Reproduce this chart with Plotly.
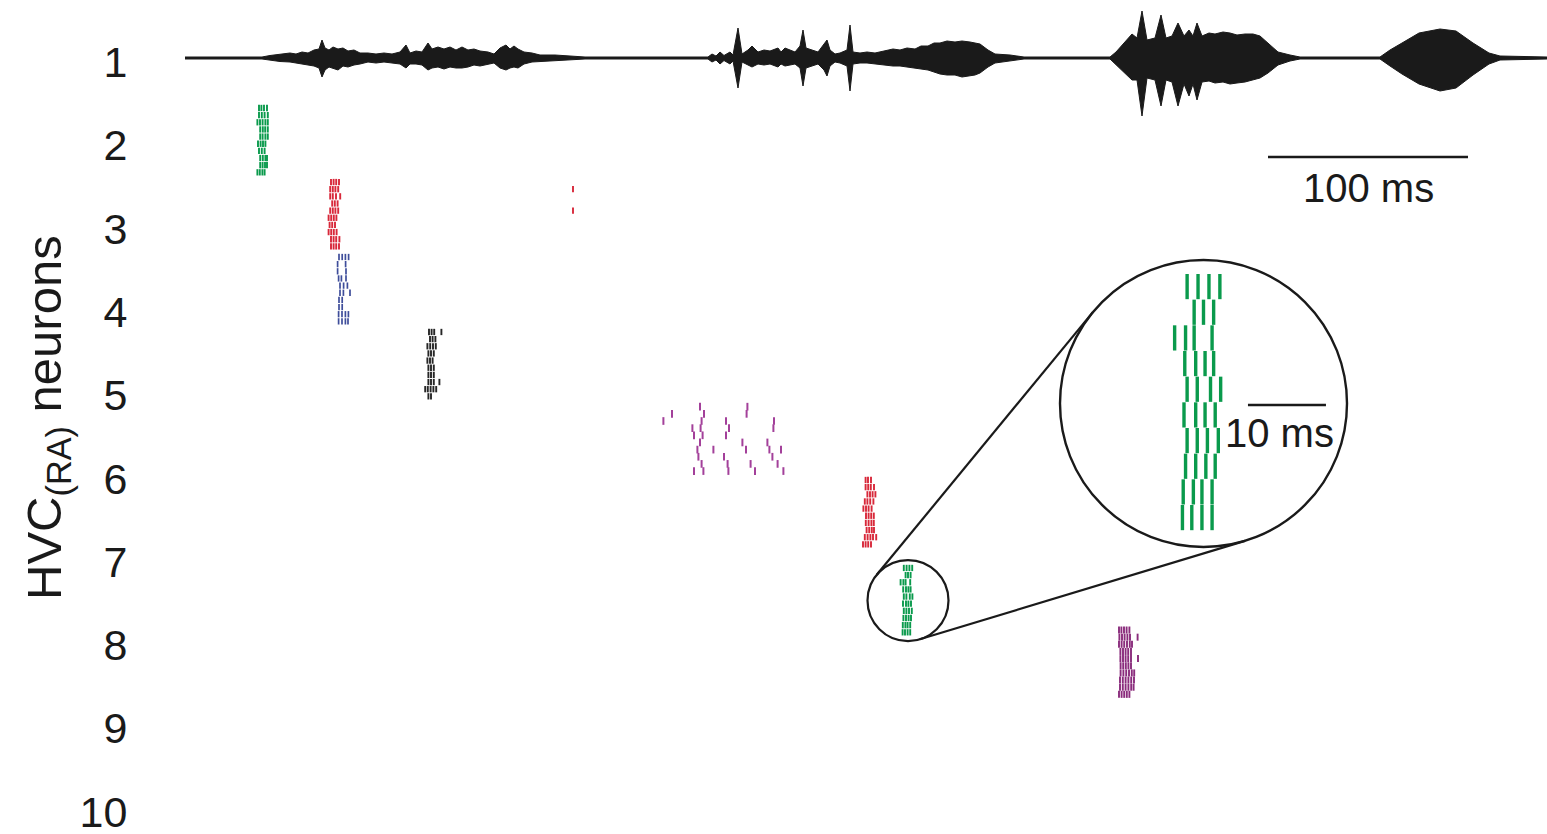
import math
import plotly.graph_objects as go

# ---------------- data ----------------
# song amplitude envelope: (time ms, upward amplitude, downward amplitude) in arbitrary units
song_envelope = [
    (0, 1, 1), (38.5, 1, 1), (42.5, 2.5, 2.5), (47.5, 3.5, 3.5), (52.5, 5, 4),
    (55.5, 4, 5), (58.5, 6, 6), (61.5, 5, 7), (64.5, 8, 8), (67, 9, 10),
    (68.5, 18, 19), (70, 10, 12), (72, 8, 9), (74, 11, 10), (76.5, 9, 12),
    (79, 10, 8), (81.5, 7, 9), (84.5, 8, 7), (87.5, 5, 6), (91.5, 5, 4),
    (95.5, 4, 5), (99.5, 5, 4), (103.5, 4, 5), (107.5, 6, 6), (110.5, 13, 10),
    (112.5, 5, 6), (115.5, 7, 6), (118.5, 6, 7), (121.5, 15, 12), (123.5, 9, 10),
    (126.5, 11, 9), (129.5, 9, 11), (132.5, 11, 9), (135.5, 8, 10), (138.5, 11, 10),
    (141.5, 8, 9), (144.5, 9, 7), (147.5, 7, 8), (151.5, 6, 6), (154.5, 4, 5),
    (157.5, 10, 10), (160.5, 13, 12), (162.5, 9, 10), (164.5, 12, 9), (166.5, 9, 10),
    (169.5, 6, 6), (173.5, 5, 4), (177.5, 3, 4), (185, 3, 3), (192.5, 2, 2),
    (200, 1, 1), (261.5, 1, 1),
    (263.5, 4, 4), (265.5, 2, 2), (267.5, 6, 6), (269.5, 2.5, 2.5), (272.5, 6, 6),
    (274, 3, 3), (276.5, 30, 30), (278.5, 4, 4), (281.5, 8, 7), (283.5, 12, 9),
    (286.5, 6, 6), (289.5, 8, 7), (292.5, 7, 6), (296.5, 10, 9), (298, 6, 6), (300, 10, 8),
    (305, 6, 6), (307.5, 12, 10), (309, 28, 28), (310.5, 10, 10), (313.5, 8, 8),
    (316.5, 6, 6), (319.5, 14, 12), (321, 18, 18), (322.5, 8, 8), (325, 4, 4),
    (327.5, 5, 5), (331, 8, 8), (332.5, 33, 33), (334, 6, 6), (337.5, 5, 5),
    (341, 6, 5), (345, 5, 6), (350, 7, 7), (354, 9, 8), (357.5, 8, 8),
    (361, 10, 9), (365, 9, 10), (368, 12, 11), (371.5, 12, 12), (374.5, 15, 14),
    (377.5, 15, 16), (381, 17, 17), (385, 16, 17), (388.5, 17, 19), (392.5, 16, 18),
    (395, 15, 17), (397.5, 14, 15), (401.5, 8, 9), (405, 4, 5), (412.5, 3, 3),
    (419.5, 1, 1), (462.5, 1, 1), (465.5, 6, 6), (469.5, 15, 14), (473.5, 24, 22),
    (476, 20, 22), (478.5, 47, 58), (481, 18, 20), (485, 20, 22), (488, 43, 48),
    (490.5, 20, 22), (493.5, 22, 24), (496.5, 35, 48), (499.5, 22, 26), (502, 28, 38),
    (504, 22, 26), (506, 35, 42), (508.5, 22, 24), (512, 25, 23), (515, 24, 25),
    (519, 26, 24), (522.5, 25, 26), (526, 23, 25), (530, 24, 24), (534, 24, 22),
    (537.5, 22, 20), (541.5, 15, 15), (546.5, 6, 7), (552.5, 3, 3), (557.5, 1, 1),
    (597.5, 1, 1), (602.5, 8, 8), (608.5, 15, 16), (617, 25, 26), (627.5, 29, 33),
    (635.5, 27, 30), (644, 15, 17), (652, 5, 6), (657.5, 2, 2), (681, 1, 1),
]

# spike times (ms) per trial for each recorded neuron
n2_trials = [
    [37.0, 38.2, 39.5, 41.0], [37.0, 38.4, 39.8, 41.4], [36.2, 37.5, 38.8, 40.2, 41.4],
    [37.6, 38.9, 40.1, 41.4], [37.6, 38.8, 40.2, 41.4], [36.5, 37.8, 39.0, 40.2],
    [37.0, 38.4, 39.8], [37.6, 38.9, 40.2, 41.0], [37.6, 38.8, 40.0, 41.0],
    [36.2, 37.4, 38.7, 39.8],
]
n3_trials = [
    [73.0, 74.3, 75.6, 77.0], [72.6, 73.9, 75.2, 76.6, 194.0], [72.6, 73.9, 75.5, 77.6],
    [73.6, 74.9, 76.3], [72.6, 73.9, 75.2, 76.6, 194.0], [71.8, 73.1, 74.4, 75.7],
    [72.3, 73.6, 75.0], [71.8, 73.1, 74.4, 75.8], [73.0, 74.3, 75.6, 77.2],
    [73.0, 74.3, 75.6, 77.0],
]
n4_trials = [
    [77.0, 78.6, 80.2, 81.8], [76.3, 80.3], [76.3, 80.5], [76.8, 78.2, 80.5],
    [77.5, 79.3, 81.2], [77.5, 79.2, 82.5], [77.0, 78.6], [77.0, 78.6],
    [76.8, 78.5, 80.2, 81.7], [76.8, 78.5, 80.2, 81.5],
]
n5_trials = [
    [122.0, 123.3, 124.6, 128.2], [122.5, 123.8, 125.2], [121.2, 122.6, 124.0, 125.4],
    [121.7, 123.0, 124.4], [121.2, 122.5, 123.8], [121.7, 123.0, 124.4],
    [121.7, 123.0, 124.4], [121.7, 123.0, 124.4, 127.2], [120.1, 121.4, 122.8, 124.2, 125.6],
    [121.7, 123.0],
]
n6_trials = [
    [257.5, 281.2], [243.5, 259.5, 280.8], [239.2, 258.3, 270.5, 294.5],
    [253.7, 257.8, 272.0, 294.2], [254.5, 258.8, 270.5], [257.5, 278.7, 291.2],
    [256.2, 264.2, 280.5, 292.2, 298.0], [256.7, 269.5, 293.7],
    [258.3, 271.3, 282.8, 296.3], [254.5, 259.2, 271.7, 285.0, 299.2],
]
n7_trials = [
    [340.3, 341.5, 343.0], [340.3, 341.6, 342.9, 344.5], [341.2, 342.5, 343.8, 345.2],
    [339.9, 341.2, 342.6, 344.2], [339.2, 340.5, 341.8, 343.3], [340.5, 341.8, 343.1, 344.4],
    [340.4, 341.8, 343.2, 344.4], [340.8, 342.1, 343.4, 344.5],
    [339.9, 341.3, 342.7, 344.0, 345.6], [339.0, 340.3, 341.6, 343.0],
]
n8_trials = [
    [359.4, 360.8, 362.2, 363.6], [360.3, 361.5, 362.8], [357.8, 359.2, 360.3, 362.6],
    [359.1, 360.5, 361.7, 362.8], [359.4, 360.7, 362.4, 363.7], [359.0, 360.5, 361.7, 363.0],
    [359.4, 360.7, 362.0, 363.4], [359.2, 360.5, 361.8, 363.0], [358.9, 360.2, 361.3, 362.6],
    [358.8, 360.0, 361.3, 362.6],
]
n9_trials = [
    [467.0, 468.2, 469.5, 470.8, 472.2], [467.2, 468.5, 469.8, 471.2, 472.5, 476.3],
    [467.0, 468.3, 469.6, 471.0, 472.4, 473.5], [467.7, 469.0, 470.3, 471.6, 473.0],
    [467.7, 469.0, 470.3, 471.6, 473.0, 476.5], [467.8, 469.1, 470.4, 471.7, 473.0],
    [467.8, 469.2, 470.6, 472.0, 473.4, 474.6], [467.5, 468.9, 470.3, 471.7, 473.1, 474.5],
    [467.5, 468.9, 470.3, 471.7, 473.1, 474.3], [467.0, 468.3, 469.6, 470.9, 472.2],
]

# row position (neuron-axis units) of the first trial of each raster
raster_rows = [1.552, 2.441, 3.341, 4.241, 5.138, 6.018, 7.074, 7.819]
neuron_ticks = [1, 2, 3, 4, 5, 6, 7, 8, 9, 10]
tick_labels = ["1", "2", "3", "4", "5", "6", "7", "8", "9", "10"]
song_row = 0.952

# ---------------- styling / layout ----------------
W, H = 1547, 834
ML = 185
PW = W - ML
X_MIN, X_MAX = 0.0, 681.0
PX_PER_UNIT = 83.3
Y_TOP = 1 - 62 / PX_PER_UNIT
Y_BOT = Y_TOP + H / PX_PER_UNIT
SX = PW / (X_MAX - X_MIN)
SY = PX_PER_UNIT
TRIAL_STEP = 7.15 / PX_PER_UNIT
INK = "#1a1a1a"
FONT = "Liberation Sans, Arial, Helvetica, sans-serif"

rasters = [
    (n2_trials, "#0a9a4c", 4.5, 1.9),
    (n3_trials, "#d8283a", 4.5, 1.9),
    (n4_trials, "#3e4d9a", 4.5, 1.7),
    (n5_trials, "#262626", 4.5, 1.9),
    (n6_trials, "#a3409a", 5.5, 2.0),
    (n7_trials, "#d8283a", 4.5, 1.9),
    (n8_trials, "#0a9a4c", 4.5, 1.9),
    (n9_trials, "#8a2c7c", 5.0, 1.9),
]

fig = go.Figure()

# song waveform envelope
ts = [p[0] for p in song_envelope]
ups = [song_row - p[1] / PX_PER_UNIT for p in song_envelope]
dns = [song_row + p[2] / PX_PER_UNIT for p in song_envelope]
fig.add_trace(go.Scatter(
    x=ts + ts[::-1], y=ups + dns[::-1], mode="lines", fill="toself",
    fillcolor=INK, line=dict(color=INK, width=1), hoverinfo="skip", showlegend=False,
))

# rasters
for (trials, color, h, w), row0 in zip(rasters, raster_rows):
    xs, ys = [], []
    for k, tr in enumerate(trials):
        for t in tr:
            xs.append(t)
            ys.append(row0 + k * TRIAL_STEP)
    fig.add_trace(go.Scatter(
        x=xs, y=ys, mode="markers", showlegend=False, hoverinfo="skip",
        marker=dict(symbol="line-ns", size=h, color=color, line=dict(color=color, width=w)),
    ))

# inset: magnified view of neuron 8
n8_row = raster_rows[6]
zoom_cx = 361.5
zoom_cy = 7.465
inset_cx_px, inset_cy_px, inset_r_px = 1203.5, 403.5, 143.5
small_r_px = 40.5
ZX, ZY = 3.9, 3.59
xs, ys = [], []
for k, tr in enumerate(n8_trials):
    for t in tr:
        xs.append(t)
        ys.append(n8_row + k * TRIAL_STEP)
fig.add_trace(go.Scatter(
    x=xs, y=ys, mode="markers", xaxis="x2", yaxis="y2", showlegend=False, hoverinfo="skip",
    marker=dict(symbol="line-ns", size=18, color="#0a9a4c", line=dict(color="#0a9a4c", width=3.4)),
))

dom_x = [(inset_cx_px - inset_r_px - ML) / PW, (inset_cx_px + inset_r_px - ML) / PW]
dom_y = [1 - (inset_cy_px + inset_r_px) / H, 1 - (inset_cy_px - inset_r_px) / H]
ix_half = inset_r_px / (SX * ZX)
iy_half = inset_r_px / (SY * ZY)

def d2px(x, y):
    return ML + (x - X_MIN) * SX, (y - Y_TOP) * SY

def px2paper(px, py):
    return (px - ML) / PW, 1 - py / H

shapes = []
# small circle around neuron 8
scx, scy = d2px(zoom_cx, zoom_cy)
p0 = px2paper(scx - small_r_px, scy + small_r_px)
p1 = px2paper(scx + small_r_px, scy - small_r_px)
shapes.append(dict(type="circle", xref="paper", yref="paper", x0=p0[0], y0=p0[1], x1=p1[0], y1=p1[1],
                   line=dict(color=INK, width=2.2)))
# big circle
shapes.append(dict(type="circle", xref="paper", yref="paper", x0=dom_x[0], y0=dom_y[0], x1=dom_x[1], y1=dom_y[1],
                   line=dict(color=INK, width=2.4)))
# external tangent lines (pixel space, y down)
dx, dy = inset_cx_px - scx, inset_cy_px - scy
dist = math.hypot(dx, dy)
theta = math.atan2(dy, dx)
alpha = math.acos((small_r_px - inset_r_px) / dist)
for sgn in (1, -1):
    a = theta + sgn * alpha
    nx, ny = math.cos(a), math.sin(a)
    q0 = px2paper(scx + small_r_px * nx, scy + small_r_px * ny)
    q1 = px2paper(inset_cx_px + inset_r_px * nx, inset_cy_px + inset_r_px * ny)
    shapes.append(dict(type="line", xref="paper", yref="paper", x0=q0[0], y0=q0[1], x1=q1[0], y1=q1[1],
                       line=dict(color=INK, width=2.2)))
# scale bars
shapes.append(dict(type="line", xref="x", yref="y", x0=541.5, x1=641.5, y0=2.140, y1=2.140,
                   line=dict(color=INK, width=2.6)))
shapes.append(dict(type="line", xref="x2", yref="y2", x0=367.2, x1=377.2, y0=7.470, y1=7.470,
                   line=dict(color=INK, width=2.6)))

annotations = [
    dict(text="100 ms", x=591.5, y=2.513, xref="x", yref="y", showarrow=False,
         font=dict(family=FONT, size=40, color=INK), xanchor="center", yanchor="middle"),
    dict(text="10 ms", x=371.3, y=7.564, xref="x2", yref="y2", showarrow=False,
         font=dict(family=FONT, size=40, color=INK), xanchor="center", yanchor="middle"),
    dict(text="HVC<sub>(RA)</sub> neurons", x=(47 - ML) / PW, y=1 - 418 / H, xref="paper", yref="paper",
         textangle=-90, showarrow=False, font=dict(family=FONT, size=49, color=INK),
         xanchor="center", yanchor="middle"),
]

fig.update_layout(
    width=W, height=H, margin=dict(l=ML, r=0, t=0, b=0, autoexpand=False),
    paper_bgcolor="white", plot_bgcolor="rgba(0,0,0,0)",
    xaxis=dict(range=[X_MIN, X_MAX], visible=False, fixedrange=True, automargin=False),
    yaxis=dict(range=[Y_BOT, Y_TOP], tickvals=neuron_ticks, ticktext=tick_labels,
               showgrid=False, zeroline=False, showline=False, ticks="outside", ticklen=48,
               tickcolor="rgba(0,0,0,0)", tickfont=dict(family=FONT, size=43, color=INK),
               ticklabeloverflow="allow", automargin=False, fixedrange=True),
    xaxis2=dict(domain=dom_x, range=[zoom_cx - ix_half, zoom_cx + ix_half], visible=False, anchor="y2"),
    yaxis2=dict(domain=dom_y, range=[zoom_cy + iy_half, zoom_cy - iy_half], visible=False, anchor="x2"),
    shapes=shapes, annotations=annotations, showlegend=False,
)

fig.write_html("out.html", config={"displayModeBar": False},
               post_script="document.body.style.margin='0';")
